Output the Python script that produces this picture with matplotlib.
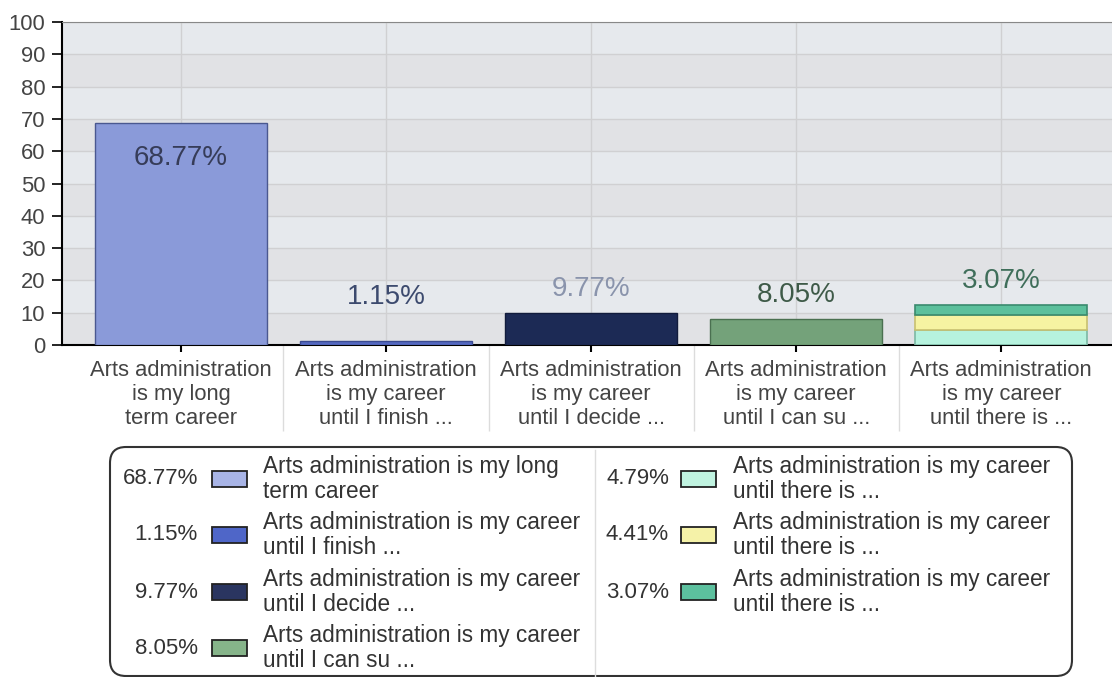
import matplotlib
matplotlib.use("Agg")
import matplotlib.pyplot as plt
from matplotlib.patches import FancyBboxPatch, Rectangle

plt.rcParams['font.family'] = ['Liberation Sans', 'DejaVu Sans']

# data
tick_labels = ["Arts administration\nis my long\nterm career",
               "Arts administration\nis my career\nuntil I finish ...",
               "Arts administration\nis my career\nuntil I decide ...",
               "Arts administration\nis my career\nuntil I can su ...",
               "Arts administration\nis my career\nuntil there is ..."]
single_values = [68.77, 1.15, 9.77, 8.05]
stack_values = [4.79, 4.41, 3.07]
bar_colors = ["#8a9ad9", "#5468c0", "#1c2a55", "#74a27a"]
bar_edges = ["#4a5890", "#3a4a90", "#121c3c", "#4a7050"]
stack_colors = ["#b6f2de", "#f6f3a2", "#5cc09c"]
stack_edges = ["#7cb8a4", "#c8c070", "#3a8a6e"]
value_label_colors = ["#363c58", "#3c4a6e", "#8a94ac", "#3e5a48", "#3f6e5a"]

legend_pcts = ["68.77%", "1.15%", "9.77%", "8.05%", "4.79%", "4.41%", "3.07%"]
legend_texts = ["Arts administration is my long\nterm career",
                "Arts administration is my career\nuntil I finish ...",
                "Arts administration is my career\nuntil I decide ...",
                "Arts administration is my career\nuntil I can su ...",
                "Arts administration is my career\nuntil there is ...",
                "Arts administration is my career\nuntil there is ...",
                "Arts administration is my career\nuntil there is ..."]
legend_swatch = ["#a8b4e6", "#4f66c8", "#2a3560", "#86b48a", "#c0f3e0", "#f5f2a8", "#5cc09e"]

W, H = 1112, 677
fig = plt.figure(figsize=(W / 100, H / 100), dpi=100)
ax = fig.add_axes([62 / W, 1 - 345 / H, (W - 62) / W, (345 - 22) / H])

# alternating background bands
for i, lo in enumerate(range(0, 100, 10)):
    ax.axhspan(lo, lo + 10, color="#e6e9ed" if i % 2 == 1 else "#e1e2e5", zorder=0, lw=0)

ax.set_ylim(0, 100)
ax.set_xlim(-0.58, 4.54)
ax.set_yticks(range(0, 101, 10))
ax.grid(True, color="#d0d0d2", lw=1, zorder=1)
ax.set_axisbelow(True)

xs = list(range(len(tick_labels)))
width = 0.84
ax.bar(xs[:4], single_values, width=width, color=bar_colors, edgecolor=bar_edges, lw=1, zorder=3)
bottom = 0
for v, c, e in zip(stack_values, stack_colors, stack_edges):
    ax.bar(xs[4], v, width=width, bottom=bottom, color=c, edgecolor=e, lw=1.2, zorder=3)
    bottom += v

tops = single_values + [sum(stack_values)]
shown = single_values + [stack_values[-1]]
for x, top, val, col in zip(xs, tops, shown, value_label_colors):
    if top > 50:
        y = top - 11
    else:
        y = max(top + 7.5, 15)
    ax.text(x, y, f"{val:.2f}%", ha="center", va="center", fontsize=20, color=col, zorder=4)

ax.set_xticks(xs)
ax.set_xticklabels(tick_labels, fontsize=15.8, color="#444444", linespacing=1.18)
ax.set_xticks([0.5, 1.5, 2.5, 3.5], minor=True)
ax.tick_params(axis="x", which="major", direction="out", length=5, width=1.5, color="black", pad=6)
ax.tick_params(axis="x", which="minor", direction="out", length=62, width=1, color="#dcdcdc")
ax.tick_params(axis="y", direction="out", length=7, width=1.2, color="black", labelsize=15.8,
               labelcolor="#444444", pad=5)

ax.spines["left"].set_linewidth(1.5)
ax.spines["bottom"].set_linewidth(1.5)
ax.spines["top"].set_color("#888888")
ax.spines["right"].set_visible(False)

# legend box drawn in pixel coords
lax = fig.add_axes([0, 0, 1, 1])
lax.set_xlim(0, W)
lax.set_ylim(H, 0)
lax.axis("off")
lax.add_patch(FancyBboxPatch((110, 447), 962, 229, boxstyle="round,pad=0,rounding_size=16",
                             fc="white", ec="#333333", lw=1.5, clip_on=False))
lax.plot([595, 595], [450, 676], color="#dddddd", lw=1)

rows_y = [479, 535, 592, 648]
for i, (pct, txt, sw) in enumerate(zip(legend_pcts, legend_texts, legend_swatch)):
    if i < 4:
        px, sx, tx, y = 198, 212, 263, rows_y[i]
    else:
        px, sx, tx, y = 669, 681, 733, rows_y[i - 4]
    lax.text(px, y, pct, ha="right", va="center", fontsize=16, color="#333333")
    lax.add_patch(Rectangle((sx, y - 8), 35, 16, fc=sw, ec="#222222", lw=1.3))
    lax.text(tx, y, txt, ha="left", va="center", fontsize=16.3, color="#333333", linespacing=1.1)

fig.savefig("out.png", dpi=100)
